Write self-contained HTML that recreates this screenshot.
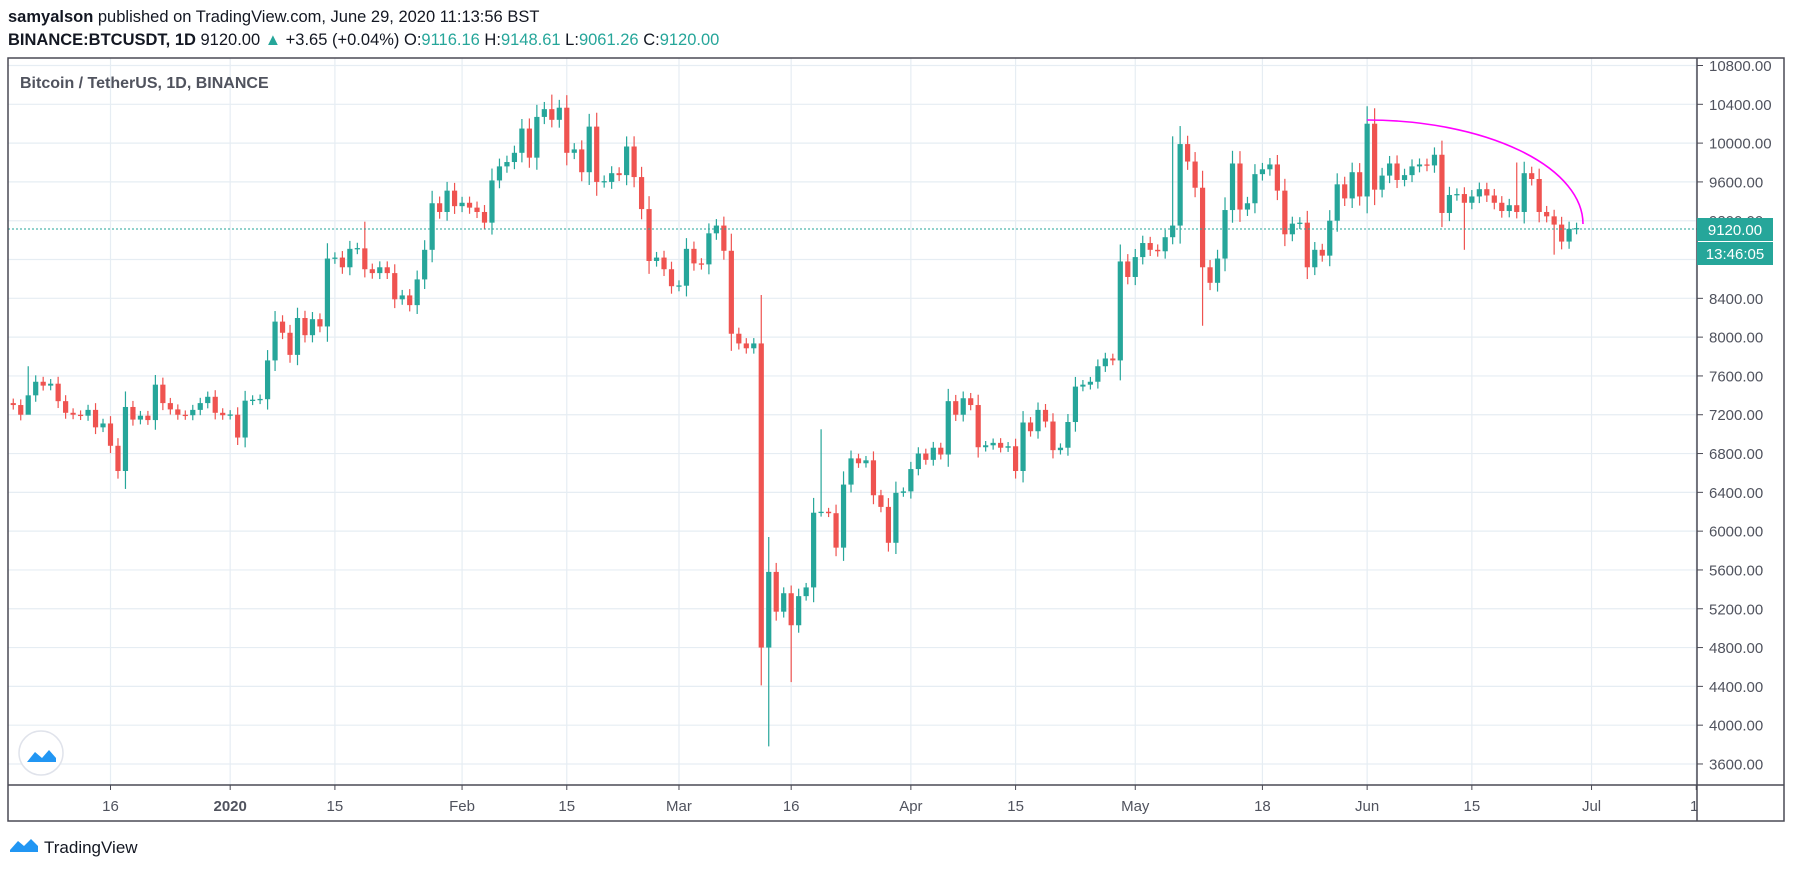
<!DOCTYPE html>
<html><head><meta charset="utf-8">
<style>
html,body{margin:0;padding:0;background:#fff;width:1793px;height:871px;overflow:hidden;font-family:"Liberation Sans",sans-serif;}
</style></head>
<body>
<svg id="s" width="1793" height="871" xmlns="http://www.w3.org/2000/svg" style="position:absolute;left:0;top:0">
<text x="8" y="22" font-size="16.5" fill="#131722"><tspan font-weight="bold">samyalson</tspan> published on TradingView.com, June 29, 2020 11:13:56 BST</text>
<text x="8" y="45" font-size="16.5" fill="#131722"><tspan font-weight="bold">BINANCE:BTCUSDT, 1D</tspan>  9120.00 <tspan fill="#26a69a">▲</tspan> +3.65 (+0.04%) O:<tspan fill="#26a69a">9116.16</tspan> H:<tspan fill="#26a69a">9148.61</tspan> L:<tspan fill="#26a69a">9061.26</tspan> C:<tspan fill="#26a69a">9120.00</tspan></text>
<g id="grid"></g>
<g id="candles"></g>
<line x1="8" y1="229" x2="1697" y2="229" stroke="#26a69a" stroke-width="1" stroke-dasharray="2,2"/>
<path d="M1367 120 A216 104 0 0 1 1583 224" fill="none" stroke="#ff00ff" stroke-width="1.6"/>
<rect x="8" y="58" width="1776" height="763" fill="none" stroke="#4a4a55" stroke-width="1.5"/>
<line x1="1697" y1="58" x2="1697" y2="821" stroke="#4a4a55" stroke-width="1.5"/>
<line x1="8" y1="785" x2="1784" y2="785" stroke="#4a4a55" stroke-width="1.5"/>
<g id="axis"></g>
<rect x="1697" y="218" width="76" height="23" fill="#26a69a"/>
<text x="1735" y="235" font-size="15" fill="#fff" text-anchor="middle">9120.00</text>
<rect x="1697" y="242" width="76" height="23" fill="#26a69a"/>
<text x="1735" y="259" font-size="15" fill="#fff" text-anchor="middle">13:46:05</text>
<text x="20" y="88" font-size="16" font-weight="bold" fill="#50535e">Bitcoin / TetherUS, 1D, BINANCE</text>
<circle cx="41" cy="753" r="22" fill="#fff" stroke="#e0e3eb" stroke-width="1.5"/>
<path d="M27 762 L35 752 L42 758 L49 750 L56 758 L56 762 Z" fill="#2196f3"/>
<path d="M10 850 L18 841 L24 846 L31 839 L38 846 L38 852 L10 852 Z" fill="#2196f3"/>
<text x="44" y="853" font-size="17" fill="#131722">TradingView</text>
</svg>
<script>
var NS="http://www.w3.org/2000/svg";
function el(p,t,a,txt){var e=document.createElementNS(NS,t);for(var k in a)e.setAttribute(k,a[k]);if(txt!=null)e.textContent=txt;document.getElementById(p).appendChild(e);return e;}
function Y(p){return 65.5+(10800-p)*0.09701;}
function X(i){return 110.5+7.48*i;}
for(var p=3600;p<=10800;p+=400){var y=Y(p);el("grid","line",{x1:8,x2:1697,y1:y,y2:y,stroke:"#e6edf3","stroke-width":1.2});
 el("axis","line",{x1:1697,x2:1703,y1:y,y2:y,stroke:"#4a4a55","stroke-width":1});
 el("axis","text",{x:1709,y:y+5.5,"font-size":15,fill:"#50535e"},p.toFixed(2));}
var vl=[[0,"16"],[16,"2020"],[30,"15"],[47,"Feb"],[61,"15"],[76,"Mar"],[91,"16"],[107,"Apr"],[121,"15"],[137,"May"],[154,"18"],[168,"Jun"],[182,"15"],[198,"Jul"],[212,"15"]];
vl.forEach(function(v){var x=X(v[0]);el("grid","line",{x1:x,x2:x,y1:58,y2:785,stroke:"#e6edf3","stroke-width":1.2});
 el("axis","line",{x1:x,x2:x,y1:785,y2:790,stroke:"#4a4a55","stroke-width":1});
 if(v[0]<212)el("axis","text",{x:x,y:811,"font-size":15,fill:"#50535e","text-anchor":"middle","font-weight":v[1]=="2020"?"bold":"normal"},v[1]);});
el("axis","text",{x:1690,y:811,"font-size":15,fill:"#50535e"},"1");
var C=[7320,7300,7200,7400,7540,7500,7520,7340,7220,7200,7190,7250,7070,7110,
6880,6620,7280,7150,7190,7145,7510,7320,7255,7200,7195,7250,7320,7385,7220,7195,
7200,6965,7345,7355,7360,7760,8160,8045,7817,8197,8020,8185,8110,8810,8820,8720,8910,8915,8700,8660,8720,8660,8390,8430,8330,8595,8900,9380,9290,9510,9350,
9385,9335,9290,9180,9615,9760,9805,9900,10150,9850,10270,10350,10240,10365,9900,9935,9700,10170,9600,9600,9690,9670,9965,9650,9320,8785,8820,8700,8525,
8530,8910,8760,8750,9070,9150,8890,8035,7935,7885,7935,4800,5580,5170,5360,5030,5330,5420,6190,6200,6185,5830,6480,6750,6700,6730,6370,6250,5880,6395,6410,
6640,6800,6735,6860,6790,7340,7200,7370,7300,6865,6885,6910,6860,6875,6620,7120,7030,7250,7130,6835,6860,7125,7490,7510,7540,7700,7780,7760,8780,8620,
8825,8970,8900,8885,9030,9150,9990,9810,9540,8720,8560,8810,9310,9790,9315,9380,9680,9730,9780,9510,9060,9170,9180,8720,8900,8840,9200,9575,9430,9700,9450,
10200,9520,9665,9790,9620,9670,9760,9780,9770,9880,9280,9465,9475,9385,9450,9525,9460,9385,9300,9360,9290,9690,9630,9290,9245,9160,8985,9116,9120];
var ov={};
function o(d,h,l){ov[d]={h:h,l:l};}
o(-11,7700,7300);o(2,7440,6435);o(34,9190,null);o(59,10500,null);
o(87,null,4410);o(88,5940,3782);o(91,null,4444);o(95,7050,null);
o(135,8955,null);o(142,10070,null);o(146,null,8117);o(168,10380,null);
o(181,null,8900);o(188,9800,null);o(193,null,8850);
for(var k=1;k<C.length;k++){
 var i=k-14,op=C[k-1],cl=C[k];
 if(Math.abs(op-cl)<8)cl=op+(cl>=op?8:-8);
 var hi=Math.max(op,cl)+Math.max(40,Math.abs(op-cl)*0.15+0.006*cl);
 var lo=Math.min(op,cl)-Math.max(40,Math.abs(op-cl)*0.15+0.006*cl);
 if(ov[i]){if(ov[i].h)hi=ov[i].h;if(ov[i].l)lo=ov[i].l;}
 var up=C[k]>=C[k-1],col=up?"#26a69a":"#ef5350",x=X(i);
 el("candles","line",{x1:x,x2:x,y1:Y(hi),y2:Y(lo),stroke:col,"stroke-width":1.2});
 var y1=Y(Math.max(op,cl)),y2=Y(Math.min(op,cl));
 el("candles","rect",{x:x-2.6,y:y1,width:5.2,height:Math.max(1.3,y2-y1),fill:col});
}
</script>
</body></html>
